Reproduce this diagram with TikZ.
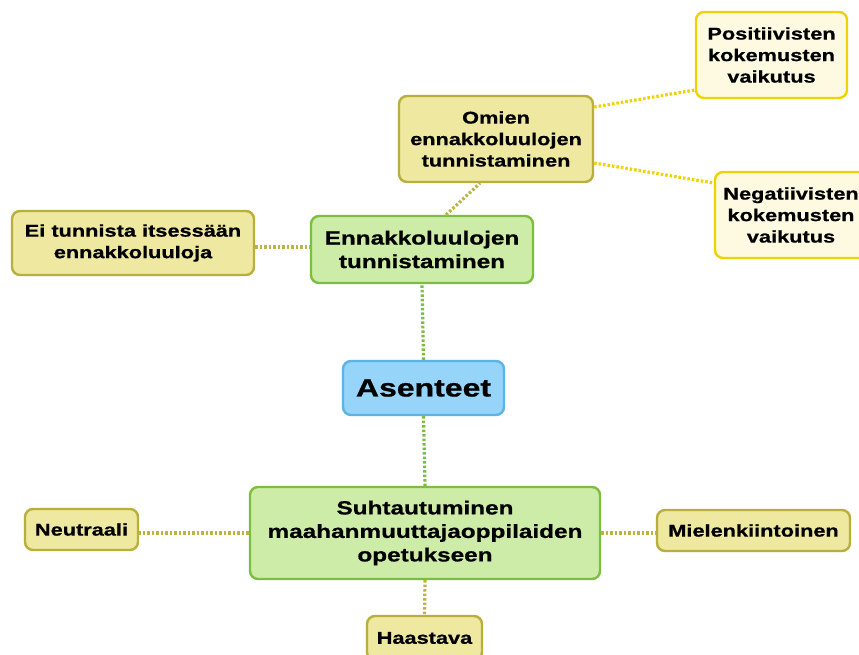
\documentclass[tikz,border=0pt]{standalone}
\usepackage{fontspec}
\setmainfont{Liberation Sans}[FakeStretch=1.28, BoldFeatures={FakeBold=0.8}]
\definecolor{bluefill}{RGB}{150,212,250}
\definecolor{blueline}{RGB}{90,180,230}
\definecolor{greenfill}{RGB}{205,236,168}
\definecolor{greenline}{RGB}{125,190,65}
\definecolor{khakifill}{RGB}{238,232,160}
\definecolor{khakiline}{RGB}{185,175,60}
\definecolor{creamfill}{RGB}{253,250,225}
\definecolor{yellowline}{RGB}{240,210,0}
\definecolor{khakidot}{RGB}{190,180,65}
\tikzset{
  box/.style={rectangle, rounded corners=8pt, line width=2.4pt, align=center, inner sep=0pt, font=\bfseries\fontsize{17}{21.5}\selectfont},
  mainbox/.style={box, fill=bluefill, draw=blueline, font=\bfseries\fontsize{25}{30}\selectfont},
  greenbox/.style={box, fill=greenfill, draw=greenline, font=\bfseries\fontsize{19}{23.5}\selectfont},
  khakibox/.style={box, fill=khakifill, draw=khakiline},
  creambox/.style={box, fill=creamfill, draw=yellowline},
  conn/.style={line width=3.2pt, dash pattern=on 2.5pt off 2pt},
  gconn/.style={conn, draw=greenline},
  kconn/.style={conn, draw=khakidot},
  yconn/.style={conn, draw=yellowline},
}
\begin{document}
\begin{tikzpicture}[x=1pt,y=-1pt]
\useasboundingbox (0,0) rectangle (859,655);
\clip (0,0) rectangle (859,655);
\fill[white] (0,0) rectangle (859,655);
% nodes
\node[mainbox, minimum width=161pt, minimum height=54pt] (asen) at (423.5,388) {Asenteet};
\node[greenbox, minimum width=222pt, minimum height=67pt] (enn) at (422,249.5) {Ennakkoluulojen\\tunnistaminen};
\node[khakibox, minimum width=194pt, minimum height=86pt] (omien) at (496,139) {Omien\\ennakkoluulojen\\tunnistaminen};
\node[creambox, minimum width=151pt, minimum height=86pt] (pos) at (771.5,55) {Positiivisten\\kokemusten\\vaikutus};
\node[creambox, minimum width=152pt, minimum height=86pt] (neg) at (791,215) {Negatiivisten\\kokemusten\\vaikutus};
\node[khakibox, minimum width=242pt, minimum height=64pt] (ei) at (133,243) {Ei tunnista itsessään\\ennakkoluuloja};
\node[greenbox, minimum width=350pt, minimum height=92pt] (suht) at (425,533) {Suhtautuminen\\maahanmuuttajaoppilaiden\\opetukseen};
\node[khakibox, minimum width=113pt, minimum height=41pt] (neut) at (81.5,529.5) {Neutraali};
\node[khakibox, minimum width=193pt, minimum height=41pt] (miel) at (753.5,530.5) {Mielenkiintoinen};
\node[khakibox, minimum width=115pt, minimum height=44pt] (haas) at (424.5,638) {Haastava};
% connectors
\draw[gconn] (asen.north) -- (enn.south);
\draw[gconn] (asen.south) -- (suht.north);
\draw[kconn] ([xshift=24pt]enn.north) -- ([xshift=-16pt]omien.south);
\draw[kconn] ([yshift=-4pt]ei.east) -- ([yshift=-4pt]ei.east -| enn.west);
\draw[yconn] ([yshift=32pt]omien.east) -- ([yshift=-35pt]pos.west);
\draw[yconn] ([yshift=-24pt]omien.east) -- ([yshift=32pt]neg.west);
\draw[kconn] (suht.west) -- (suht.west -| neut.east);
\draw[kconn] (suht.east) -- (suht.east -| miel.west);
\draw[kconn] (suht.south) -- (haas.north);
\end{tikzpicture}
\end{document}
